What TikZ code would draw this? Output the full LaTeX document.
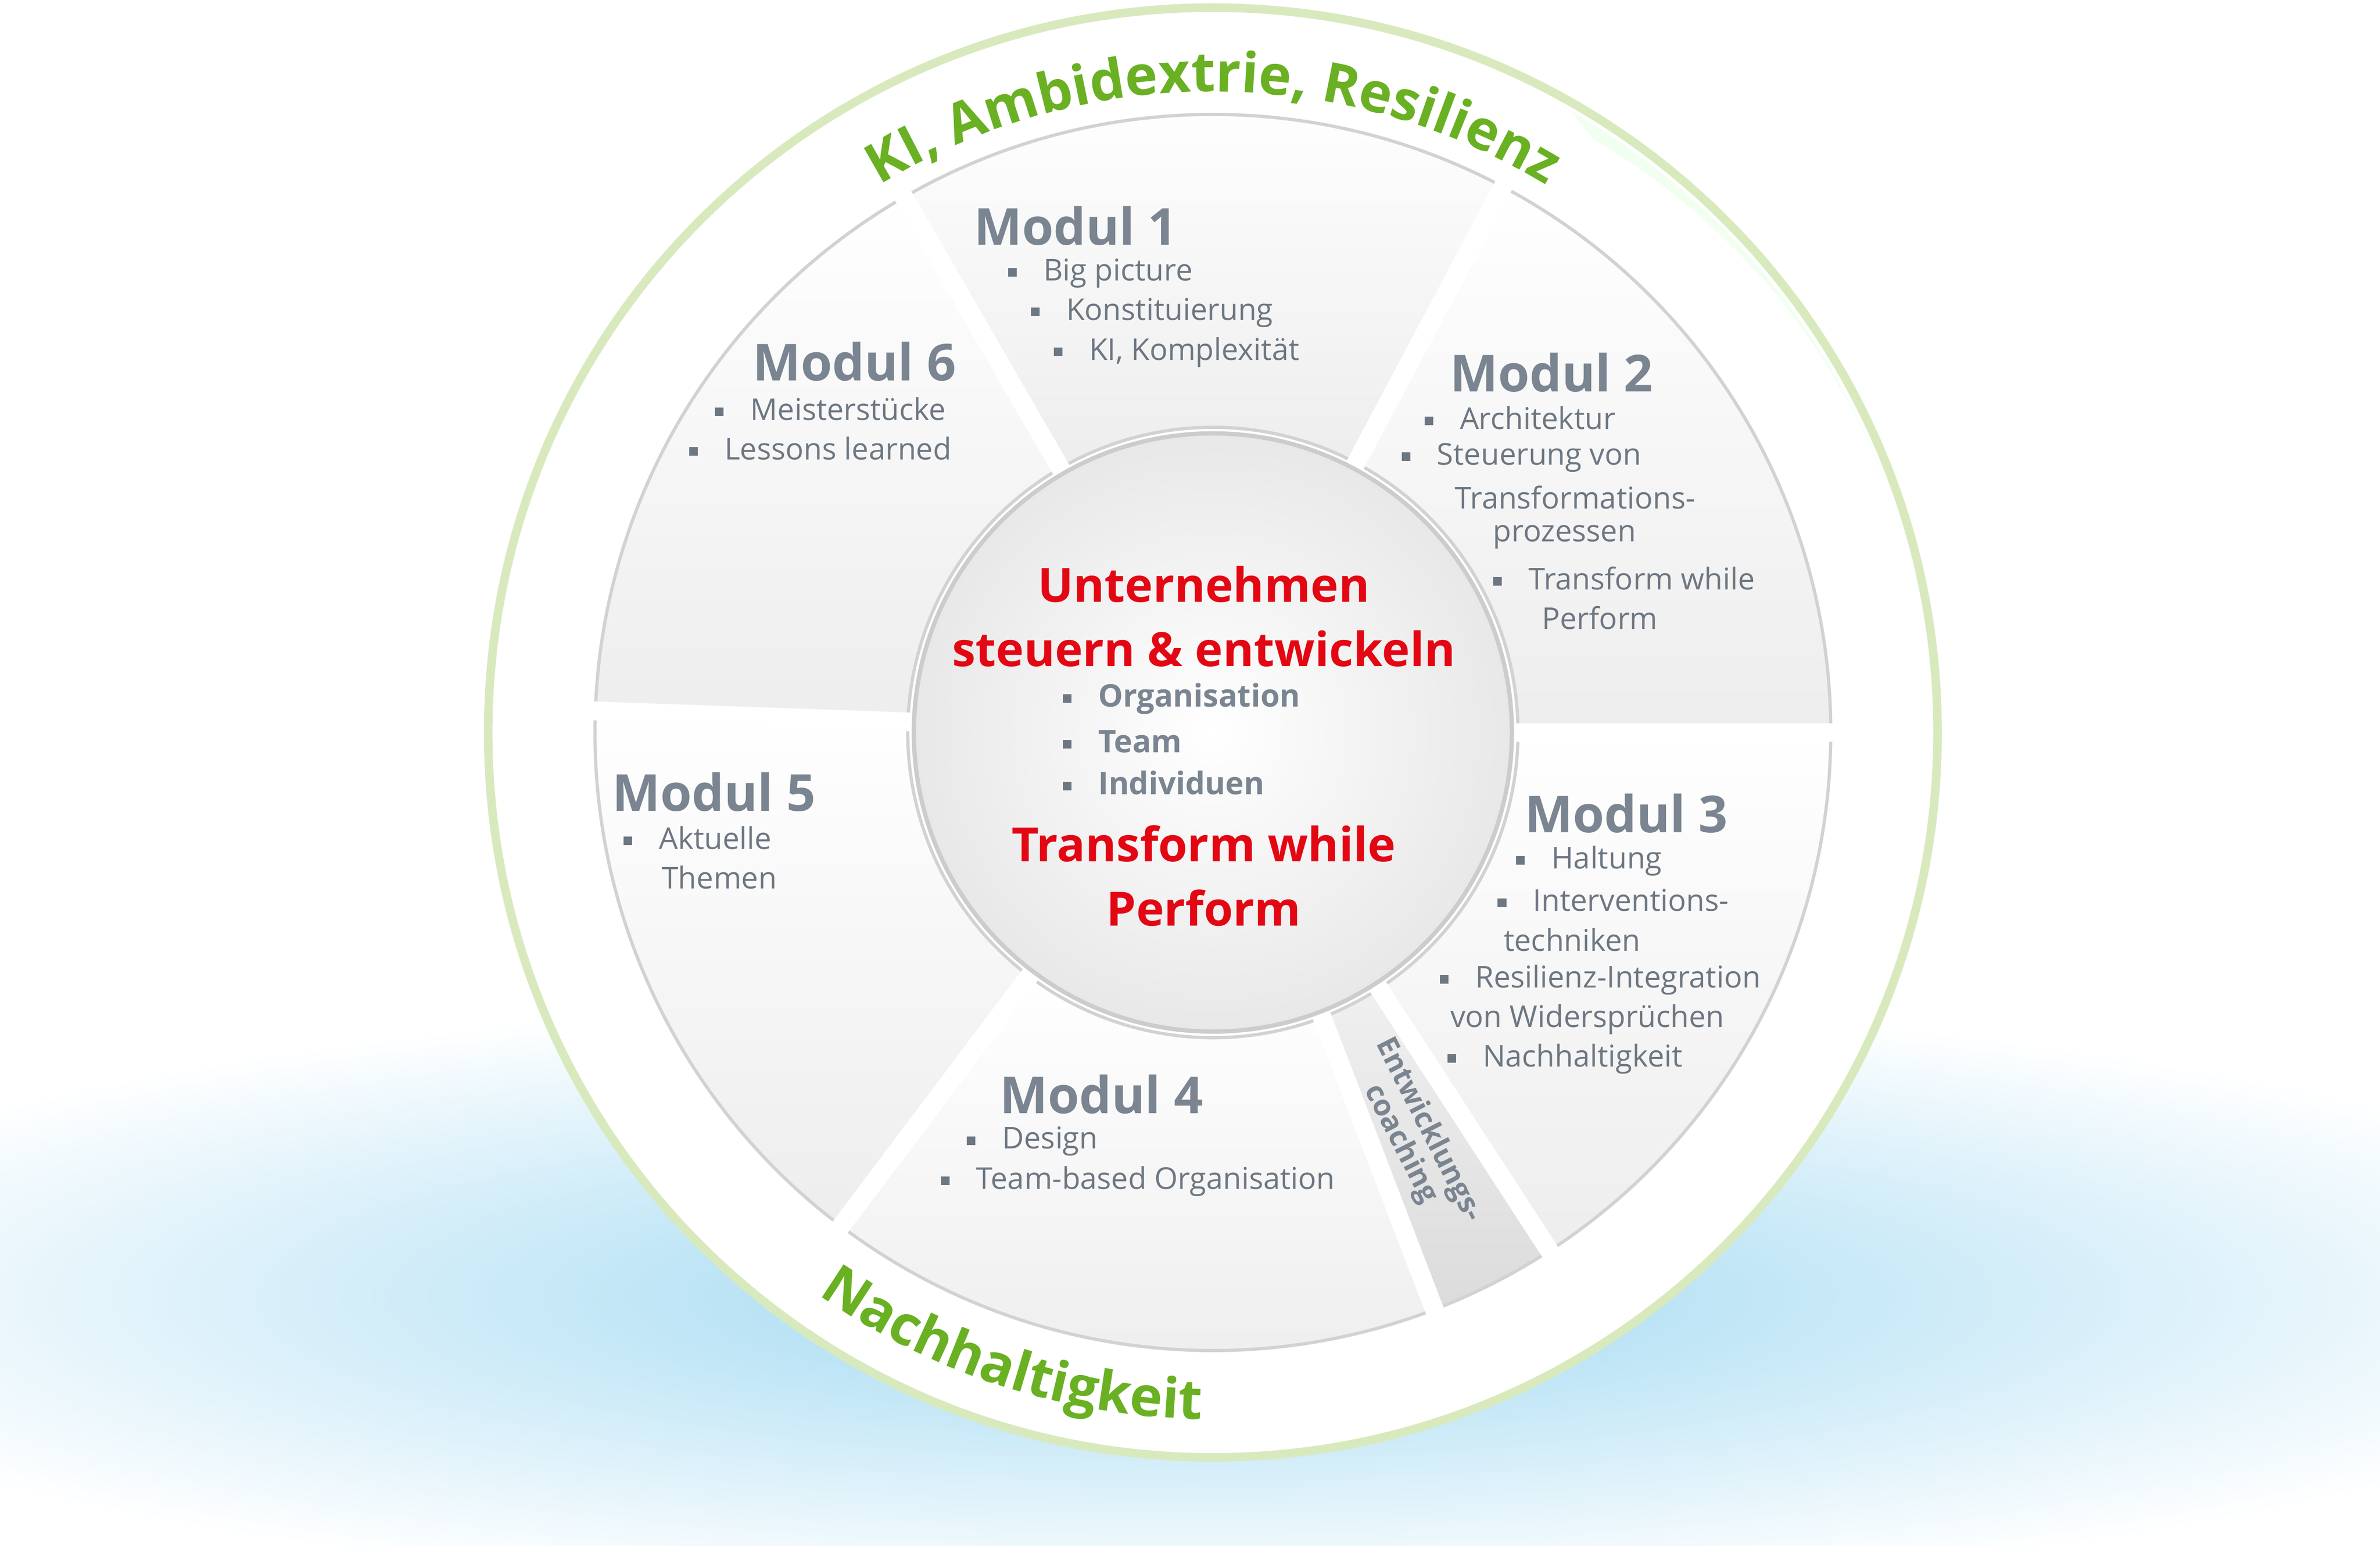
\documentclass[tikz,border=0pt]{standalone}
\usepackage{fontspec}
\setmainfont{Open Sans}
\usepackage{xcolor}
\usetikzlibrary{calc, decorations.text}
\definecolor{modgray}{HTML}{7A8591}
\definecolor{txtgray}{HTML}{6D7782}
\definecolor{titlered}{HTML}{E30613}
\definecolor{ringgreen}{HTML}{6AB023}
\definecolor{ringline}{HTML}{D8EABD}
\definecolor{glow}{HTML}{9FD8F1}
\newcommand{\bul}{\textcolor{txtgray}{\rule[0.25ex]{1.6pt}{1.6pt}}\hspace{5pt}}

\begin{document}
\begin{tikzpicture}[x=0.01cm, y=0.01cm,
    modul/.style={text=modgray, font=\fontsize{9.5}{11}\selectfont\bfseries},
    item/.style={anchor=west, inner sep=0, text=txtgray, font=\fontsize{5.6}{7}\selectfont},
    core/.style={text=titlered, font=\fontsize{8.8}{12}\selectfont\bfseries},
    coreitem/.style={anchor=west, inner sep=0, text=modgray, font=\fontsize{5.8}{7}\selectfont\bfseries},
    segment/.style={top color=white, bottom color=gray!14, draw=gray!35, line width=0.6pt}]
    \useasboundingbox (-795,-533) rectangle (765,480);
    % blue glow
    \begin{scope}
      \clip (-795,-533) rectangle (765,480);
      \shade[inner color=glow, outer color=white] (-15,-370) ellipse (1000 and 200);
    \end{scope}
    % outer ring
    \fill[white] (0,0) circle (477);
    \draw[ringline, line width=1.6pt] (0,0) circle (475);
    \fill[green!6] (60:470) arc (60:15:470) arc (15:60:440) -- cycle;
    % modules
    \foreach \a/\b in {120/62, 62/0, 0/-57, -69/-127, -127/-182, 178/120}
      \path[segment] (\a:200) -- (\a:405) arc (\a:\b:405) -- (\b:200) arc (\b:\a:200) -- cycle;
    \path[segment, top color=gray!12, bottom color=gray!28] (-57:200) -- (-57:405) arc (-57:-69:405) -- (-69:200) arc (-69:-57:200) -- cycle;
    \foreach \a in {120, 62, 0, -57, -69, -127, 178}
      \draw[white, line width=3.5pt] (\a:195) -- (\a:410);
    % center circle
    \shade[inner color=white, outer color=gray!18, draw=gray!40, line width=0.8pt] (0,0) circle (196);
    % ring texts
    \path[decorate, decoration={text along path, text align=center, text color=ringgreen,
      text={|\fontsize{10.3}{12}\selectfont\bfseries|KI, Ambidextrie, Resilienz}}]
      (127:420) arc (127:53:420);
    \path[decorate, decoration={text along path, text align=center, text color=ringgreen,
      text={|\fontsize{10.3}{12}\selectfont\bfseries|Nachhaltigkeit}}]
      (-130:450) arc (-130:-86:450);
    % module 1
    \node[modul] (m1) at (-90,332) {Modul 1};
    \node[item] (m1a) at (-135,301) {\bul Big picture};
    \node[item] (m1b) at (-120,275) {\bul Konstituierung};
    \node[item] (m1c) at (-105,249) {\bul KI, Komplexität};
    % module 2
    \node[modul] (m2) at (222,236) {Modul 2};
    \node[item] (m2a) at (138,206) {\bul Architektur};
    \node[item] (m2b) at (123,180) {\bul Steuerung von};
    \node[item] (m2c) at (158,154) {Transformations-};
    \node[item] (m2d) at (183,128) {prozessen};
    \node[item] (m2e) at (183,101) {\bul Transform while};
    \node[item] (m2f) at (215,75) {Perform};
    % module 3
    \node[modul] (m3) at (271,-53) {Modul 3};
    \node[item] (m3a) at (198,-84) {\bul Haltung};
    \node[item] (m3b) at (186,-110) {\bul Interventions-};
    \node[item] (m3c) at (190,-136) {techniken};
    \node[item] (m3d) at (148,-162) {\bul Resilienz-Integration};
    \node[item] (m3e) at (155,-188) {von Widersprüchen};
    \node[item] (m3f) at (153,-214) {\bul Nachhaltigkeit};
    % coaching
    \node[rotate=-63, align=center, text=modgray, font=\fontsize{5.4}{5.8}\selectfont\bfseries, inner sep=0]
      (ec) at (132,-265) {Entwicklungs-\\coaching};
    % module 4
    \node[modul] (m4) at (-73,-237) {Modul 4};
    \node[item] (m4a) at (-162,-268) {\bul Design};
    \node[item] (m4b) at (-179,-294) {\bul Team-based Organisation};
    % module 5
    \node[modul] (m5) at (-327,-39) {Modul 5};
    \node[item] (m5a) at (-387,-69) {\bul Aktuelle};
    \node[item] (m5b) at (-362,-95) {Themen};
    % module 6
    \node[modul] (m6) at (-235,243) {Modul 6};
    \node[item] (m6a) at (-327,212) {\bul Meisterstücke};
    \node[item] (m6b) at (-344,186) {\bul Lessons learned};
    % core
    \node[core] (c1) at (-6,97) {Unternehmen};
    \node[core] (c2) at (-6,55) {steuern \& entwickeln};
    \node[coreitem] (c3) at (-99,22) {\bul Organisation};
    \node[coreitem] (c4) at (-99,-6) {\bul Team};
    \node[coreitem] (c5) at (-99,-33) {\bul Individuen};
    \node[core] (c6) at (-6,-73) {Transform while};
    \node[core] (c7) at (-6,-115) {Perform};
\end{tikzpicture}
\end{document}
